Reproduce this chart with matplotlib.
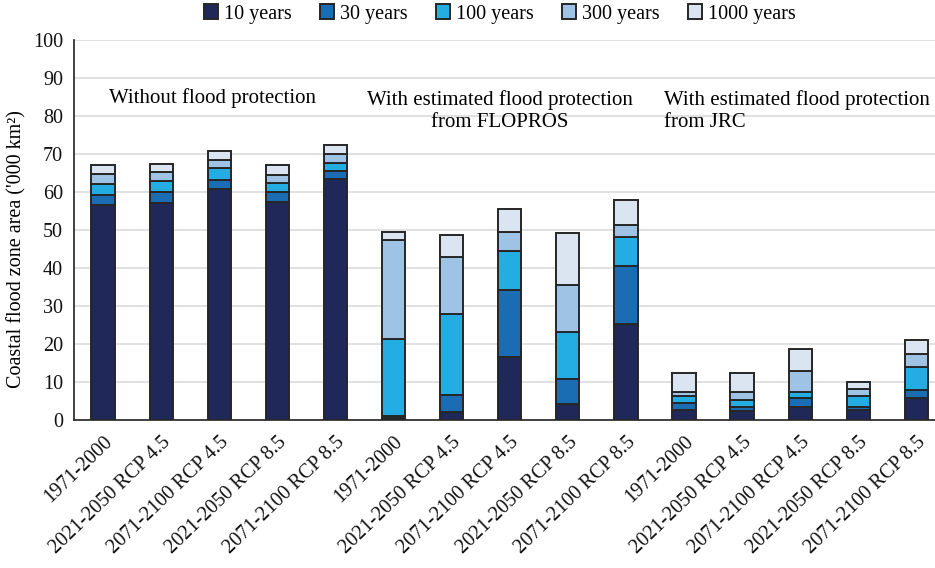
import numpy as np
import matplotlib
matplotlib.use("Agg")
import matplotlib.pyplot as plt

plt.rcParams['font.family'] = ['Liberation Serif', 'DejaVu Serif']

periods = ['1971-2000', '2021-2050 RCP 4.5', '2071-2100 RCP 4.5',
           '2021-2050 RCP 8.5', '2071-2100 RCP 8.5']
categories = periods * 3

series_names = ['10 years', '30 years', '100 years', '300 years', '1000 years']

# cumulative flood zone area ('000 km2) for each return period
area_10 = [56.5, 57.1, 60.7, 57.4, 63.3, 0.5, 2.1, 16.7, 4.3, 25.3, 2.7, 2.5, 3.4, 2.7, 5.7]
area_30 = [59.3, 59.9, 63.1, 60.0, 65.5, 1.0, 6.7, 34.1, 10.8, 40.4, 4.4, 3.4, 5.7, 3.5, 7.9]
area_100 = [62.1, 62.8, 66.2, 62.3, 67.7, 21.4, 27.8, 44.5, 23.1, 48.2, 6.4, 5.2, 7.5, 6.4, 13.9]
area_300 = [64.7, 65.2, 68.3, 64.6, 70.0, 47.3, 42.9, 49.6, 35.4, 51.4, 7.3, 7.5, 13.0, 8.2, 17.5]
area_1000 = [67.2, 67.4, 70.9, 67.2, 72.5, 49.5, 48.8, 55.5, 49.1, 57.9, 12.5, 12.3, 18.6, 10.0, 21.1]

colors = ['#1f2859', '#1a6db3', '#23ade2', '#9fc3e5', '#dbe5f2']

cum = np.array([area_10, area_30, area_100, area_300, area_1000])
segments = np.vstack([cum[0], np.diff(cum, axis=0)])

fig = plt.figure(figsize=(9.35, 5.68), dpi=100)
ax = fig.add_axes([74 / 935, 1 - 420 / 568, (935 - 74) / 935, 380 / 568])

x = np.arange(len(categories))
bottom = np.zeros(len(categories))
for i, name in enumerate(series_names):
    ax.bar(x, segments[i], width=0.4, bottom=bottom, color=colors[i],
           edgecolor='#262626', linewidth=1.4, label=name, zorder=3)
    bottom += segments[i]

ax.set_ylim(0, 100)
ax.set_xlim(-0.5, 14.32)
ax.set_yticks(np.arange(0, 101, 10))
ax.yaxis.grid(True, color='#dcdcdc', linewidth=1.2, zorder=0)
ax.set_axisbelow(True)
ax.tick_params(axis='both', length=0, labelsize=14.5, colors='#111111')
ax.tick_params(axis='y', pad=8)
ax.tick_params(axis='x', pad=9)
ax.set_xticks(x)
ax.set_xticklabels(categories, rotation=44, ha='right', rotation_mode='anchor')
for s in ['top', 'right']:
    ax.spines[s].set_visible(False)
for s in ['left', 'bottom']:
    ax.spines[s].set_color('#333333')
    ax.spines[s].set_linewidth(1.3)

ax.set_ylabel("Coastal flood zone area ('000 km²)", fontsize=14.5)
ax.yaxis.set_label_coords(-0.055, 0.45)

ax.text(1.88, 84.7, 'Without flood protection', fontsize=15, ha='center', va='center')
ax.text(6.83, 81.4, 'With estimated flood protection\nfrom FLOPROS', fontsize=15,
        ha='center', va='center', linespacing=1.2)
ax.text(9.66, 81.4, 'With estimated flood protection\nfrom JRC', fontsize=15,
        ha='left', va='center', linespacing=1.2)

leg = ax.legend(loc='center', bbox_to_anchor=(500 / 935, 1 - 14 / 568),
                bbox_transform=fig.transFigure, ncol=5, frameon=False,
                fontsize=14.5, handlelength=0.7, handleheight=0.7,
                handletextpad=0.3, columnspacing=1.4)

fig.savefig('out.png', dpi=100)
